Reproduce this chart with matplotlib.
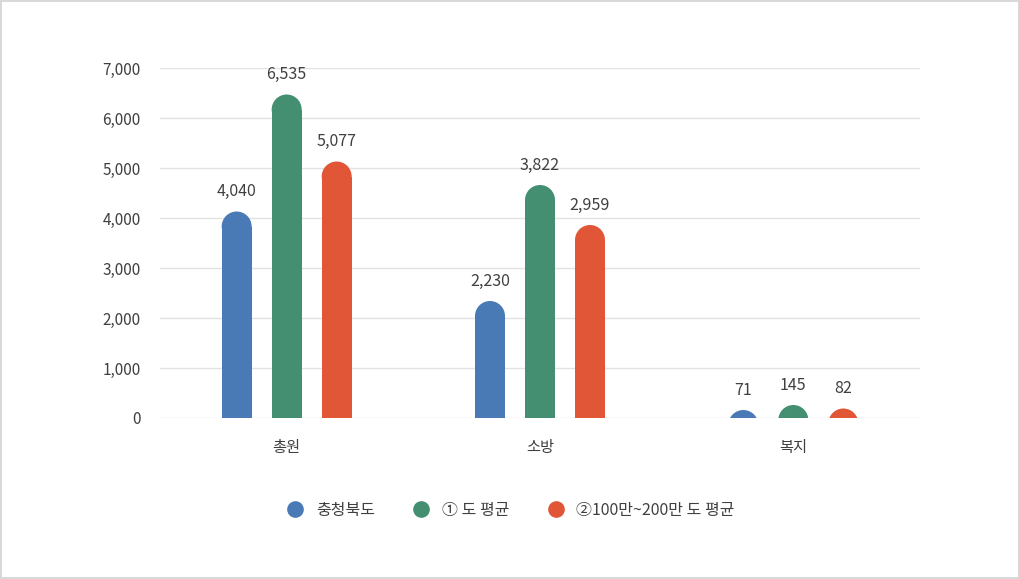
import numpy as np
import matplotlib
matplotlib.use('Agg')
import matplotlib.pyplot as plt
from matplotlib.patches import Rectangle, Ellipse
from matplotlib.lines import Line2D

plt.rcParams['font.family'] = ['Noto Sans CJK KR', 'DejaVu Sans']

categories = ['총원', '소방', '복지']
series = ['충청북도', '① 도 평균', '②100만~200만 도 평균']
colors = ['#4a7ab5', '#448f72', '#e05637']

# bar heights as drawn in the picture (the printed labels do not always match)
heights = [
    [4130, 2340, 160],
    [6470, 4660, 260],
    [5130, 3860, 190],
]
value_labels = [
    ['4,040', '2,230', '71'],
    ['6,535', '3,822', '145'],
    ['5,077', '2,959', '82'],
]
yticks = [0, 1000, 2000, 3000, 4000, 5000, 6000, 7000]

W, H = 1020, 579
fig = plt.figure(figsize=(W / 100, H / 100), dpi=100)
fig.patch.set_facecolor('white')
fig.patch.set_edgecolor('#d9d9d9')
fig.patch.set_linewidth(1.5)

ax = fig.add_axes([160 / W, 1 - 418 / H, 760 / W, 350 / H])
ax.set_xlim(-0.5, 2.5)
ax.set_ylim(0, 7000)

px_x = 3.0 / 760      # data units per pixel in x
px_y = 7000 / 350     # data units per pixel in y
bw = 30 * px_x
r_x = bw / 2
r_y = 15 * px_y
offs = [-50 * px_x, 0, 50 * px_x]

x = np.arange(len(categories))
for s in range(len(series)):
    for i in range(len(categories)):
        xc = x[i] + offs[s]
        h = heights[s][i]
        body = max(h - r_y, 0)
        if body > 0:
            ax.add_patch(Rectangle((xc - r_x, 0), bw, body, facecolor=colors[s],
                                   edgecolor='none', zorder=3))
        ax.add_patch(Ellipse((xc, h - r_y), 2 * r_x, 2 * r_y, facecolor=colors[s],
                             edgecolor='none', zorder=3))
        ax.annotate(value_labels[s][i], (xc, h), xytext=(0, 8), textcoords='offset points',
                    ha='center', va='bottom', fontsize=11.5, color='#404040')

ax.set_yticks(yticks)
ax.set_yticklabels(['{:,}'.format(v) for v in yticks])
ax.set_xticks(x)
ax.set_xticklabels(categories)
ax.tick_params(axis='y', length=0, pad=14, labelsize=11, labelcolor='#404040')
ax.tick_params(axis='x', length=0, pad=15, labelsize=11, labelcolor='#404040')
ax.grid(axis='y', color='#e2e2e2', linewidth=1, zorder=0)
ax.set_axisbelow(True)
for sp in ax.spines.values():
    sp.set_visible(False)

handles = [Line2D([], [], linestyle='none', marker='o', markersize=12,
                  markerfacecolor=c, markeredgecolor='none') for c in colors]
fig.legend(handles, series, loc='center', bbox_to_anchor=(0.497, 1 - 510 / H), ncol=3,
           frameon=False, fontsize=11.5, labelcolor='#404040', handletextpad=0.3,
           columnspacing=1.9)

fig.savefig('out.png', dpi=100, facecolor=fig.get_facecolor(), edgecolor=fig.get_edgecolor())
